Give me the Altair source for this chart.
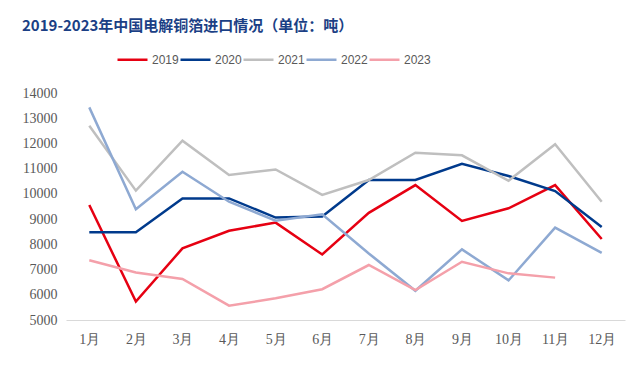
import altair as alt
import pandas as pd

months = ["1月", "2月", "3月", "4月", "5月", "6月", "7月", "8月", "9月", "10月", "11月", "12月"]
years = ["2019", "2020", "2021", "2022", "2023"]
colors = ["#E60012", "#003A8C", "#BFBFBF", "#8EA9D2", "#F4A0AA"]

v2019 = [9560, 5730, 7840, 8540, 8860, 7600, 9250, 10350, 8930, 9430, 10350, 8210]
v2020 = [8480, 8480, 9820, 9820, 9060, 9100, 10550, 10550, 11190, 10710, 10110, 8690]
v2021 = [12700, 10130, 12110, 10750, 10970, 9960, 10550, 11630, 11530, 10520, 11970, 9690]
v2022 = [13430, 9390, 10880, 9690, 8940, 9190, 7640, 6160, 7800, 6570, 8660, 7660]
v2023 = [7370, 6880, 6630, 5570, 5860, 6220, 7180, 6190, 7310, 6850, 6680, None]

rows = []
for y, vals in zip(years, [v2019, v2020, v2021, v2022, v2023]):
    for m, v in zip(months, vals):
        if v is not None:
            rows.append({"月份": m, "年份": y, "进口量": v})
df = pd.DataFrame(rows)

chart = alt.Chart(df).mark_line(strokeWidth=2.5).encode(
    x=alt.X("月份:N", sort=months, scale=alt.Scale(padding=0.5),
            axis=alt.Axis(title=None, labelAngle=0, ticks=False, domainColor="#D9D9D9",
                          labelFont="Liberation Serif", labelFontSize=14, labelColor="#595959",
                          labelPadding=12)),
    y=alt.Y("进口量:Q", scale=alt.Scale(domain=[5000, 14000], nice=False, zero=False),
            axis=alt.Axis(title=None, values=list(range(5000, 14001, 1000)), grid=False,
                          format="d", domain=False, ticks=False, labelFont="Liberation Serif",
                          labelFontSize=14, labelColor="#595959", labelPadding=9)),
    color=alt.Color("年份:N", scale=alt.Scale(domain=years, range=colors),
                    legend=alt.Legend(title=None, orient="none", direction="horizontal",
                                      legendX=50, legendY=-50, symbolType="stroke",
                                      symbolSize=900, symbolStrokeWidth=2.5,
                                      labelFont="Liberation Sans", labelFontSize=12,
                                      labelColor="#595959", labelOffset=3,
                                      columnPadding=-11)),
    order=alt.value(0),
).properties(
    width=559,
    height=227,
    autosize=alt.AutoSizeParams(type="none"),
    padding={"left": 58, "top": 85, "right": 7, "bottom": 40},
    title=alt.TitleParams("2019-2023年中国电解铜箔进口情况（单位：吨）", anchor="start",
                          frame="group", dx=-44, offset=9, font="Noto Sans CJK SC",
                          fontSize=15, fontWeight="bold", color="#1B3F85"),
).configure_view(stroke=None)

chart.save("out.html", embed_options={"renderer": "svg", "actions": False})
